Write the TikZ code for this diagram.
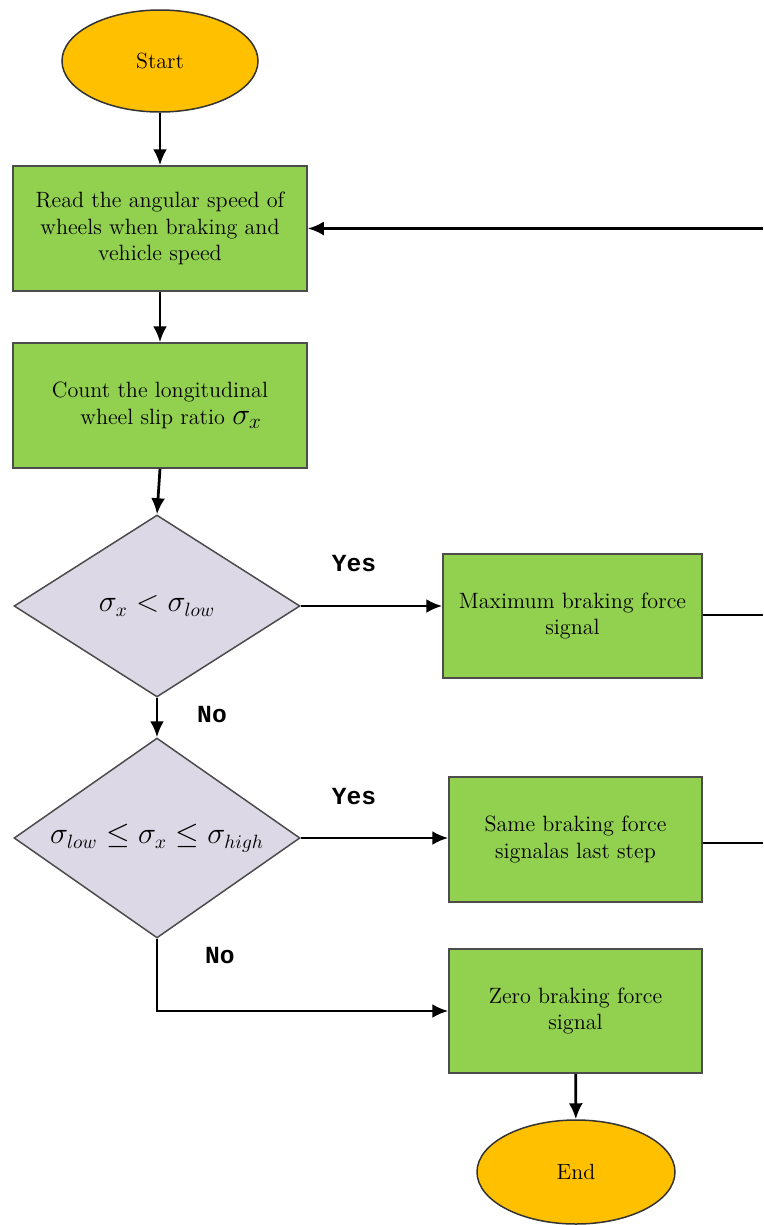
\documentclass[tikz,border=0pt]{standalone}
\usepackage{fontspec}
\usepackage{amsmath, amssymb}
\usetikzlibrary{shapes.geometric, arrows.meta}
\newfontfamily\yesnofont{Liberation Mono}

\definecolor{boxgreen}{HTML}{92D050}
\definecolor{termorange}{HTML}{FFC000}
\definecolor{decililac}{HTML}{DCD8E6}

\tikzset{
  term/.style={ellipse, draw=black!80, line width=0.3mm, fill=termorange,
    inner sep=0pt, font=\fontsize{12.5}{15}\selectfont},
  procbox/.style={rectangle, draw=black!70, line width=0.3mm, fill=boxgreen,
    align=center, inner sep=0pt, font=\fontsize{12.6}{15}\selectfont},
  decide/.style={diamond, draw=black!70, line width=0.3mm, fill=decililac,
    inner sep=0pt, font=\fontsize{16}{18}\selectfont},
  flow/.style={line width=0.55mm, -{Latex[length=3.2mm, width=2.8mm]}},
  plainflow/.style={line width=0.55mm},
  answer/.style={font=\yesnofont\bfseries\fontsize{14}{16}\selectfont}
}

\begin{document}
\begin{tikzpicture}
    \useasboundingbox (0, 0) rectangle (15.26, -24.5);

    % 1. 起止节点(Start、End)
    \node [term, minimum width=3.92cm, minimum height=2.04cm] (start) at (3.2, -1.22) {Start};
    \node [term, minimum width=3.96cm, minimum height=2.08cm] (stop) at (11.52, -23.44) {End};

    % 2. 左列:读取、计算、两个判断
    \node [procbox, minimum width=5.88cm, minimum height=2.5cm] (read) at (3.2, -4.57)
      {Read the angular speed of\\wheels when braking and\\vehicle speed};
    \node [procbox, minimum width=5.88cm, minimum height=2.5cm] (count) at (3.2, -8.11)
      {Count the longitudinal\\\quad wheel slip ratio {\LARGE$\sigma_x$}};
    \node [decide, minimum width=5.72cm, minimum height=3.64cm] (low) at (3.14, -12.12)
      {\makebox[0pt]{$\sigma_x < \sigma_{low}$}};
    \node [decide, minimum width=5.72cm, minimum height=4cm] (mid) at (3.14, -16.76)
      {\makebox[0pt]{$\sigma_{low} \le \sigma_x \le \sigma_{high}$}};

    % 3. 右列:三种制动力信号
    \node [procbox, minimum width=5.18cm, minimum height=2.48cm] (maxf) at (11.45, -12.32)
      {Maximum braking force\\signal};
    \node [procbox, minimum width=5.06cm, minimum height=2.5cm] (same) at (11.51, -16.79)
      {Same braking force\\signalas last step};
    \node [procbox, minimum width=5.06cm, minimum height=2.48cm] (zero) at (11.51, -20.22)
      {Zero braking force\\signal};

    % 4. 右边缘的回路端点
    \coordinate (back) at (15.26, -4.57);
    \coordinate (outmax) at (15.26, -12.3);
    \coordinate (outsame) at (15.26, -16.86);

    % 5. 连线 + 标注
    \draw [flow] (start) -- (read);
    \draw [flow] (read) -- (count);
    \draw [flow] (count.south) -- (low.north);
    \draw [flow] (low.east) -- (low.east -| maxf.west);
    \node [answer] (yes1) at (7.08, -11.28) {Yes};
    \draw [flow] (low) -- (mid);
    \node [answer] (no1) at (4.24, -14.3) {No};
    \draw [flow] (mid.east) -- (mid.east -| same.west);
    \node [answer] (yes2) at (7.08, -15.94) {Yes};
    \draw [flow] (mid.south) |- (zero.west);
    \node [answer] (no2) at (4.4, -19.12) {No};
    \draw [flow] (zero) -- (stop);
    \draw [plainflow] (maxf.east |- outmax) -- (outmax);
    \draw [plainflow] (same.east |- outsame) -- (outsame);
    \draw [flow] (back) -- (read.east);
\end{tikzpicture}
\end{document}
